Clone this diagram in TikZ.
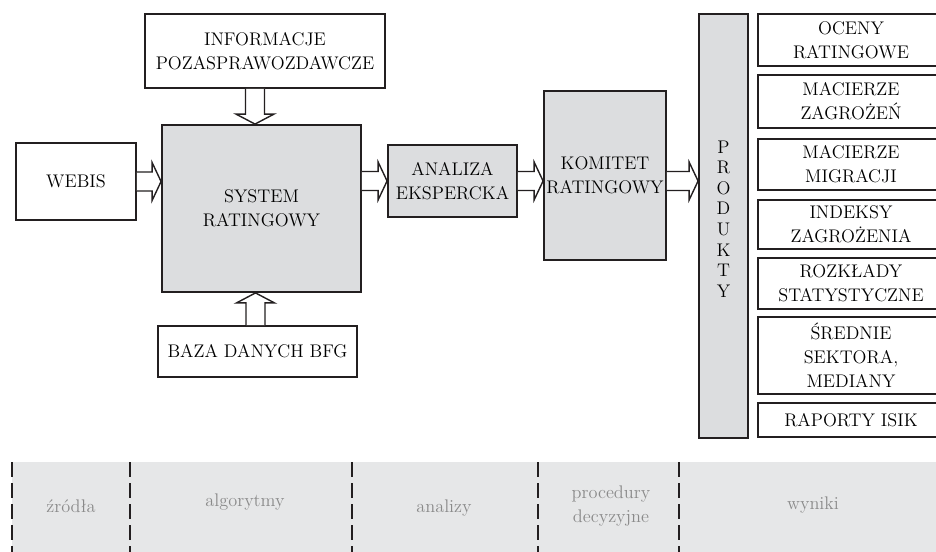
\documentclass[tikz,border=0pt]{standalone}
\usepackage{tikz}
\usetikzlibrary{calc}
\definecolor{boxgrey}{HTML}{DCDDDF}
\definecolor{bandgrey}{HTML}{E6E7E8}
\definecolor{lblgrey}{HTML}{8A8A8A}
\definecolor{ink}{HTML}{231F20}

\begin{document}
\begin{tikzpicture}
[
	x=0.25mm, y=-0.25mm,
	box/.style={draw=ink, line width=1.3pt, inner sep=0pt, align=center, font=\fontsize{13}{17}\selectfont},
	gbox/.style={box, fill=boxgrey},
	prodbox/.style={box, minimum width=46.5mm},
	arrline/.style={draw=ink, line width=1pt, fill=white},
	barr/.style n args={4}{to path={($(\tikztostart)+(#3,#4)$) -- ($(\tikztotarget)+(#1,#2)+(#3,#4)$) -- ($(\tikztotarget)+(#1,#2)+2*(#3,#4)$) -- (\tikztotarget) -- ($(\tikztotarget)+(#1,#2)-2*(#3,#4)$) -- ($(\tikztotarget)+(#1,#2)-(#3,#4)$) -- ($(\tikztostart)-(#3,#4)$)}},
	harr/.style={barr={-9}{0}{0}{9.5}},
	darr/.style={barr={0}{-10}{9.5}{0}},
	uarr/.style={barr={0}{10}{9.5}{0}},
	sep/.style={line width=2pt, color=ink, dash pattern=on 3.75mm off 1.5mm},
	lbl/.style={text=lblgrey, align=center, font=\fontsize{13}{16.5}\selectfont}
]
\useasboundingbox (0,0) rectangle (936,552);

% Bottom band
\fill[bandgrey] (12,462) rectangle (940,552);
\draw[sep] (12,462)--(12,556) (130,462)--(130,556) (352,462)--(352,556) (538,462)--(538,556) (679,462)--(679,556);
\node[lbl] (zrodla) at (71,506) {źródła};
\node[lbl] (algo) at (245,502) {algorytmy};
\node[lbl] (anal) at (444,508) {analizy};
\node[lbl] (proc) at (611,506) {procedury\\decyzyjne};
\node[lbl] (wyn) at (813,505) {wyniki};

% Sources and algorithms
\node[box, minimum width=60mm, minimum height=18.5mm] (info) at (265,51) {INFORMACJE\\POZASPRAWOZDAWCZE};
\node[box, minimum width=30mm, minimum height=19.25mm] (webis) at (76,181.5) {WEBIS};
\node[gbox, minimum width=49.75mm, minimum height=41.75mm] (sys) at (261.5,208.5) {SYSTEM\\RATINGOWY};
\node[box, minimum width=49.75mm, minimum height=12.75mm] (baza) at (257.5,351.5) {BAZA DANYCH BFG};

% Analysis and decision
\node[gbox, minimum width=32.25mm, minimum height=18mm] (ana) at (452.5,181) {ANALIZA\\EKSPERCKA};
\node[gbox, minimum width=30.5mm, minimum height=42.25mm] (kom) at (605,175.5) {KOMITET\\RATINGOWY};
\node[gbox, minimum width=12.25mm, minimum height=106mm] (prod) at (723.5,226) {};
\node[box, draw=none, font=\fontsize{13}{14.6}\selectfont] (prodlbl) at (723.5,219) {P\\R\\O\\D\\U\\K\\T\\Y};

% Products
\node[prodbox, minimum height=13mm] (oceny) at (851,40) {OCENY\\RATINGOWE};
\node[prodbox, minimum height=13.25mm] (macz) at (851,101.5) {MACIERZE\\ZAGROŻEŃ};
\node[prodbox, minimum height=12.75mm] (macm) at (851,164.5) {MACIERZE\\MIGRACJI};
\node[prodbox, minimum height=12.25mm] (indeksy) at (851,224.5) {INDEKSY\\ZAGROŻENIA};
\node[prodbox, minimum height=12.75mm] (rozklady) at (851,283.5) {ROZKŁADY\\STATYSTYCZNE};
\node[prodbox, minimum height=19.25mm] (srednie) at (851,355.5) {ŚREDNIE\\SEKTORA,\\MEDIANY};
\node[prodbox, minimum height=8.5mm] (raporty) at (851,420) {RAPORTY ISIK};

% Arrow ends
\coordinate (infoout) at ([xshift=-2.5mm]info.south);
\coordinate (sysin1) at (infoout |- sys.north);
\coordinate (bazaout) at ([xshift=-0.5mm]baza.north);
\coordinate (sysin2) at (bazaout |- sys.south);
\coordinate (sysin3) at (sys.west |- webis.east);
\coordinate (sysout) at (sys.east |- ana.west);
\coordinate (komin) at (kom.west |- ana.east);
\coordinate (komout) at (kom.east |- ana.east);
\coordinate (prodin) at (prod.west |- ana.east);

% Block arrows
\draw[arrline] (infoout) to[darr] (sysin1);
\draw[arrline] (bazaout) to[uarr] (sysin2);
\draw[arrline] (webis.east) to[harr] (sysin3);
\draw[arrline] (sysout) to[harr] (ana.west);
\draw[arrline] (ana.east) to[harr] (komin);
\draw[arrline] (komout) to[harr] (prodin);

\end{tikzpicture}
\end{document}
